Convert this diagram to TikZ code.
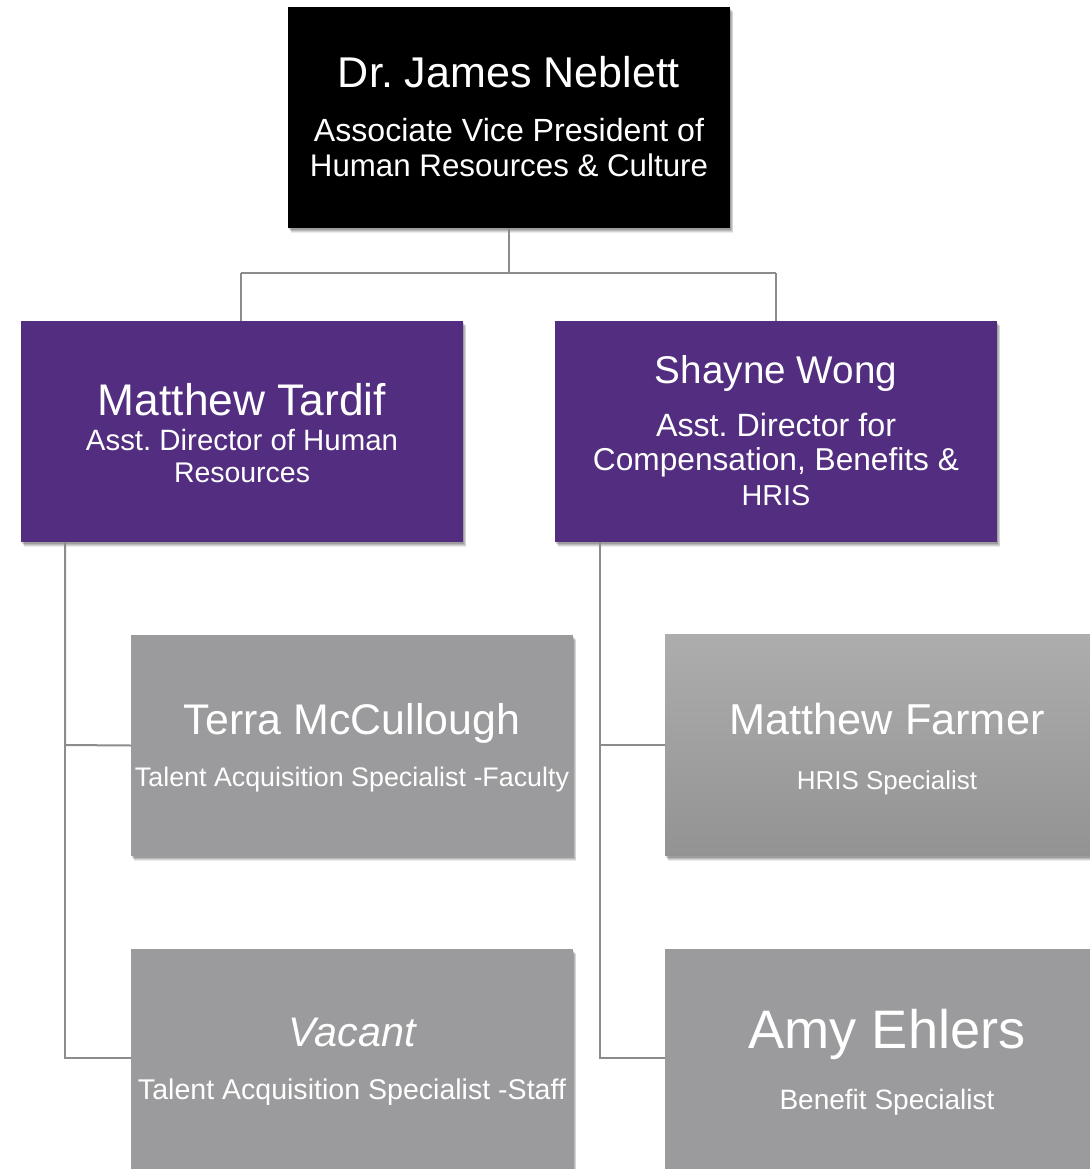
\documentclass[tikz,border=0pt]{standalone}
\usepackage{fontspec}
\setmainfont{Liberation Sans}
\usetikzlibrary{shadows}
\definecolor{clpurple}{HTML}{522D80}
\definecolor{clgray}{HTML}{9B9B9D}
\definecolor{gtop}{HTML}{ADADAD}
\definecolor{gbot}{HTML}{939393}
\definecolor{lnc}{HTML}{8C8C8C}
\newcommand{\fitw}[2]{\resizebox{#1pt}{!}{#2}}
\frenchspacing
\tikzset{
  card/.style={rectangle, inner sep=0pt, outer sep=0pt, minimum width=442pt, minimum height=221pt,
    drop shadow={shadow xshift=3pt, shadow yshift=-5pt, opacity=0.08, fill=black},
    drop shadow={shadow xshift=2.5pt, shadow yshift=-4pt, opacity=0.1, fill=black},
    drop shadow={shadow xshift=2pt, shadow yshift=-3pt, opacity=0.12, fill=black},
    drop shadow={shadow xshift=1.2pt, shadow yshift=-2pt, opacity=0.15, fill=black}},
  blackcard/.style={card, fill=black},
  purplecard/.style={card, fill=clpurple},
  graycard/.style={card, fill=clgray},
  gradcard/.style={card, top color=gtop, bottom color=gbot},
  lbl/.style={text=white, inner sep=0pt, anchor=base},
  conn/.style={draw=lnc, line width=2pt}
}
\begin{document}
\begin{tikzpicture}[x=1pt,y=-1pt]
\useasboundingbox[fill=white] (0,0) rectangle (1089,1169);
% boxes
\node[blackcard]  (top)   at (509,117.5) {};
\node[purplecard] (tard)  at (242,431.5) {};
\node[purplecard] (wong)  at (776,431.5) {};
\node[graycard]   (terra) at (352,745.5) {};
\node[graycard]   (vac)   at (352,1059) {};
\node[gradcard]   (farm)  at (886,745) {};
\node[graycard]   (amy)   at (886,1059) {};
% connectors
\coordinate (jt) at (509,273);
\coordinate (jl) at (241,273);
\coordinate (jr) at (776,273);
\draw[conn] (top.south) -- (jt);
\draw[conn] (jl) -- (jr);
\draw[conn] (jl) -- (jl |- tard.north);
\draw[conn] (jr) -- (jr |- wong.north);
\coordinate (lv) at (65,542);
\coordinate (rv) at (600,542);
\draw[conn] (lv) -- (65,745) -- (terra.west);
\draw[conn] (65,745) -- (65,1058) -- (vac.west |- 65,1058);
\draw[conn] (rv) -- (600,745) -- (farm.west);
\draw[conn] (600,745) -- (600,1058) -- (amy.west |- 600,1058);
% texts
\node[lbl] (n1)  at (509,88)  {\fitw{342}{Dr. James Neblett}};
\node[lbl] (n1a) at (509,142) {\fitw{390}{Associate Vice President of}};
\node[lbl] (n1b) at (509,177) {\fitw{398}{Human Resources \& Culture}};

\node[lbl] (n2)  at (242,415) {\fitw{288}{Matthew Tardif}};
\node[lbl] (n2a) at (242,450) {\fitw{312}{Asst. Director of Human}};
\node[lbl] (n2b) at (242,482) {\fitw{136}{Resources}};

\node[lbl] (n3)  at (776,383) {\fitw{242}{Shayne Wong}};
\node[lbl] (n3a) at (776,436) {\fitw{240}{Asst. Director for}};
\node[lbl] (n3b) at (776,470) {\fitw{366}{Compensation, Benefits \&}};
\node[lbl] (n3c) at (776,505) {\fitw{69}{HRIS}};

\node[lbl] (n4)  at (352,734) {\fitw{336}{Terra McCullough}};
\node[lbl] (n4a) at (352,786) {\fitw{434}{Talent Acquisition Specialist -Faculty}};

\node[lbl] (n5)  at (352,1046) {\fitw{127}{\itshape Vacant}};
\node[lbl] (n5a) at (352,1099) {\fitw{428}{Talent Acquisition Specialist -Staff}};

\node[lbl] (n6)  at (887,734) {\fitw{315}{Matthew Farmer}};
\node[lbl] (n6a) at (887,789) {\fitw{180}{HRIS Specialist}};

\node[lbl] (n7)  at (887,1048) {\fitw{277}{Amy Ehlers}};
\node[lbl] (n7a) at (887,1109) {\fitw{215}{Benefit Specialist}};
\end{tikzpicture}
\end{document}
